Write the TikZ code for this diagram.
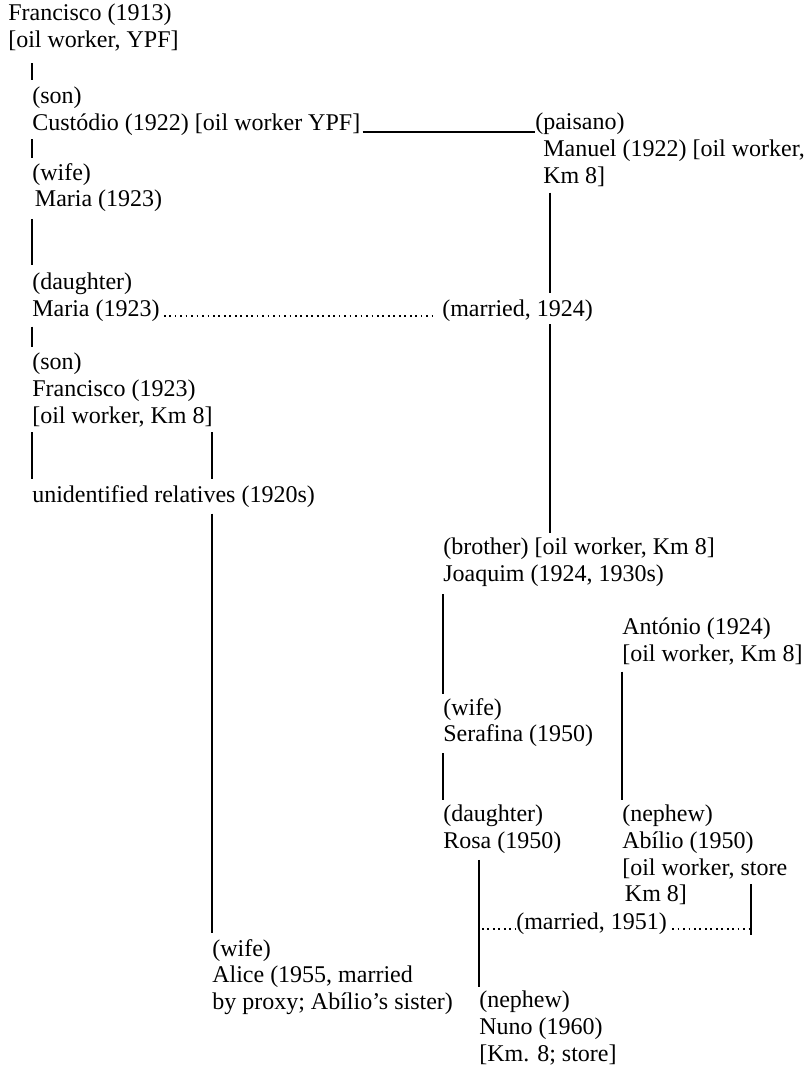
\documentclass[tikz,border=0pt]{standalone}
\usepackage{fontspec}
\setmainfont{Liberation Serif}
\usetikzlibrary{calc}
\tikzset{
  person/.style={anchor=north west, inner sep=0pt, align=left, font=\fontsize{18}{20}\selectfont},
  kin/.style={line width=0.8pt, shorten <=4.5pt, shorten >=4.5pt},
  tie/.style={line width=1.3pt, dash pattern=on 1.3pt off 2.8pt}
}
\begin{document}
\begin{tikzpicture}[x=0.75pt, y=-0.75pt]
    \useasboundingbox (0,0) rectangle (811,1068);

    % Left branch
    \node[person] (fr13) at (8,4) {Francisco (1913)\\{}[oil worker, YPF]};
    \node[person] (cust) at (32,87) {(son)\\Custódio (1922) [oil worker YPF]};
    \node[person] (wife1) at (32,163) {(wife)\\\hspace{2pt}Maria (1923)};
    \node[person] (dau1) at (32,273) {(daughter)\\Maria (1923)};
    \node[person] (son2) at (32,353) {(son)\\Francisco (1923)\\{}[oil worker, Km 8]};
    \node[person] (unid) at (32,485) {unidentified relatives (1920s)};
    \node[person] (alice) at (212,939) {(wife)\\Alice (1955, married\\by proxy; Abílio’s sister)};

    % Right branch
    \node[person] (pais) at (535,113) {(paisano)\\\hspace{6pt}Manuel (1922) [oil worker,\\\hspace{6pt}Km 8]};
    \node[person] (m24) at (442,300) {(married, 1924)};
    \node[person] (broth) at (443,538) {(brother) [oil worker, Km 8]\\Joaquim (1924, 1930s)};
    \node[person] (ant) at (622,618) {António (1924)\\{}[oil worker, Km 8]};
    \node[person] (wife2) at (443,698) {(wife)\\Serafina (1950)};
    \node[person] (rosa) at (443,805) {(daughter)\\Rosa (1950)};
    \node[person] (abil) at (622,805) {(nephew)\\Abílio (1950)\\{}[oil worker, store\\\hspace{2pt}Km 8]};
    \node[person] (m51) at (516,913) {(married, 1951)};
    \node[person] (nuno) at (479,991) {(nephew)\\Nuno (1960)\\{}[Km. 8; store]};

    \coordinate (mx) at (550,0);
    \coordinate (sx) at (751,884);

    % Descent lines
    \draw[kin, shorten <=8.6pt, shorten >=5.2pt] (fr13.south -| cust.west) -- (cust.north west);
    \draw[kin, shorten <=2.5pt, shorten >=4pt] (cust.south west) -- (wife1.north west);
    \draw[kin, shorten <=5pt, shorten >=6pt] (wife1.south west) -- (dau1.north west);
    \draw[kin, shorten <=3.4pt] (dau1.south west) -- (son2.north west);
    \draw[kin, shorten <=3.8pt] (son2.south west) -- (unid.north west);
    \draw[kin, shorten <=3.8pt] (son2.south -| alice.west) -- (unid.north -| alice.west);
    \draw[kin] (unid.south -| alice.west) -- (alice.north west);
    \draw[kin, shorten >=5.2pt] (pais.south -| mx) -- (m24.north -| mx);
    \draw[kin, shorten <=1.5pt, shorten >=3.8pt] (m24.south -| mx) -- (broth.north -| mx);
    \draw[kin, shorten <=5.6pt, shorten >=3pt] (broth.south west) -- (wife2.north west);
    \draw[kin, shorten >=3.8pt] (wife2.south west) -- (rosa.north west);
    \draw[kin, shorten >=3.8pt] (ant.south west) -- (abil.north west);
    \draw[kin, shorten >=3pt] (rosa.south -| nuno.west) -- (nuno.north west);
    \draw[line width=0.8pt] (sx) -- (sx |- m51.south);

    % Marriages and the paisano tie
    \draw[line width=0.8pt] ($(cust.south east)+(2,-4)$) -- ($(cust.south east -| pais.west)+(0,-4)$);
    \draw[tie] ($(dau1.east |- m24.base)+(4,-1)$) -- ($(m24.base west)+(-7,-1)$);
    \draw[tie] ($(m51.base -| nuno.west)+(3,-1)$) -- ($(m51.base west)+(-1,-1)$);
    \draw[tie] ($(m51.base east)+(5,-1)$) -- ($(m51.base -| sx)+(-2,-1)$);
\end{tikzpicture}
\end{document}
